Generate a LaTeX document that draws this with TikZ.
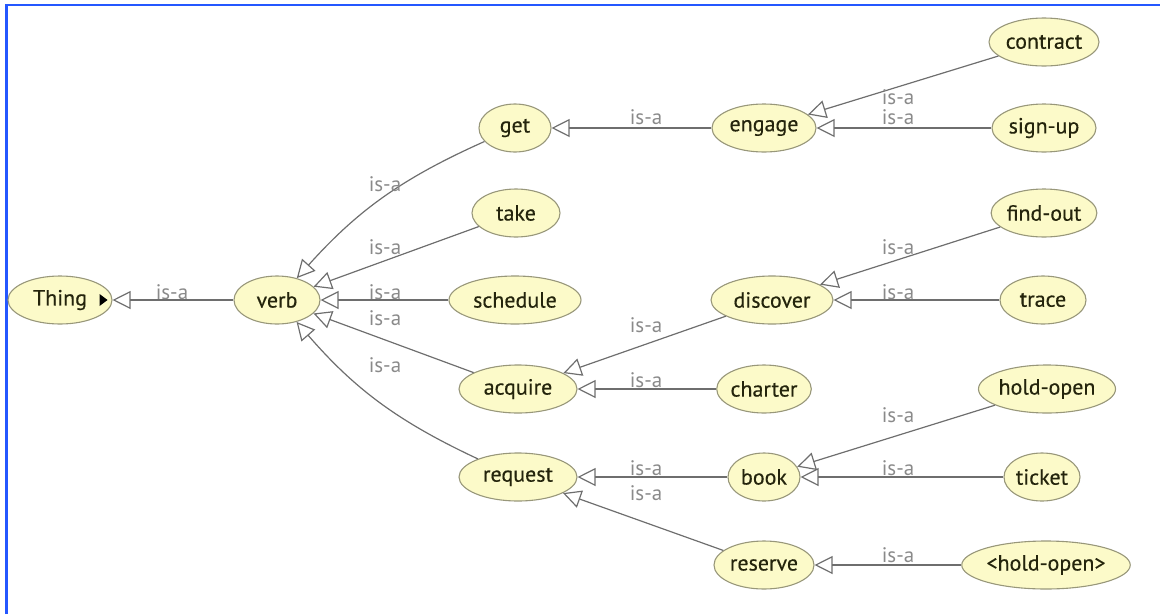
\documentclass[tikz,border=0pt]{standalone}
\usepackage{fontspec}
\setmainfont{PT Sans}
\newfontfamily\conceptfont[FakeBold=0.35]{PT Sans}
\usetikzlibrary{shapes.geometric,arrows.meta}

\definecolor{nodefill}{HTML}{FCFAC9}
\definecolor{nodeline}{HTML}{98977A}
\definecolor{nodetext}{HTML}{24240C}
\definecolor{edgegray}{HTML}{6E6E6E}
\definecolor{labelgray}{HTML}{8A8A8A}
\definecolor{frameblue}{HTML}{2457FF}

\tikzset{
  concept/.style={ellipse, draw=nodeline, fill=nodefill, line width=1.1pt,
    text=nodetext, font=\conceptfont\fontsize{22}{26}\selectfont,
    minimum height=48pt, minimum width=#1, inner sep=0pt},
  isa/.style={draw=edgegray, line width=1.2pt,
    -{Triangle[open, length=18pt, width=18pt]}},
  isalabel/.style={text=labelgray, font=\fontsize{21}{24}\selectfont, inner sep=0pt}
}

\begin{document}
\begin{tikzpicture}[x=1pt, y=-1pt]
\useasboundingbox (0,0) rectangle (1160,614);

    % frame
    \draw[frameblue, line width=2.5pt] (6.5,614) -- (6.5,5) -- (1160,5);

    % root and first level
    \node[concept=104pt] (Thing) at (60,300) {Thing};
    \fill ([xshift=-13pt,yshift=6pt]Thing.east) -- ([xshift=-13pt,yshift=-6pt]Thing.east)
        -- ([xshift=-5pt]Thing.east) -- cycle;
    \node[concept=86pt] (verb) at (277,300) {verb};

    % second level
    \node[concept=72pt]  (get)      at (515,128) {get};
    \node[concept=88pt]  (take)     at (516,213) {take};
    \node[concept=132pt] (schedule) at (515,300) {schedule};
    \node[concept=118pt] (acquire)  at (518,389) {acquire};
    \node[concept=118pt] (request)  at (518,477) {request};

    % third level
    \node[concept=104pt] (engage)   at (764,128) {engage};
    \node[concept=122pt] (discover) at (772,300) {discover};
    \node[concept=84pt]  (charter)  at (764,389) {charter};
    \node[concept=72pt]  (book)     at (764,477) {book};
    \node[concept=100pt] (reserve)  at (764,565) {reserve};

    % leaves
    \node[concept=110pt] (contract)  at (1044,42)  {contract};
    \node[concept=104pt] (signup)    at (1044,128) {sign-up};
    \node[concept=104pt] (findout)   at (1044,213) {find-out};
    \node[concept=86pt]  (trace)     at (1043,300) {trace};
    \node[concept=124pt] (holdopen)  at (1047,389) {hold-open};
    \node[concept=76pt]  (ticket)    at (1042,477) {ticket};
    \node[concept=134pt] (holdopenx) at (1046,565) {<hold-open>};

    % is-a links
    \draw[isa] (verb) -- (Thing) node[isalabel] at (172,292) {is-a};
    \draw[isa] (get) to[bend right=12] (verb) node[isalabel] at (385,184) {is-a};
    \draw[isa] (take) -- (verb) node[isalabel] at (385,247) {is-a};
    \draw[isa] (schedule) -- (verb) node[isalabel] at (385,292) {is-a};
    \draw[isa] (acquire) -- (verb) node[isalabel] at (385,318) {is-a};
    \draw[isa] (request) to[bend left=12] (verb) node[isalabel] at (385,365) {is-a};

    \draw[isa] (engage) -- (get) node[isalabel] at (646,117) {is-a};
    \draw[isa] (discover) -- (acquire) node[isalabel] at (646,325) {is-a};
    \draw[isa] (charter) -- (acquire) node[isalabel] at (646,380) {is-a};
    \draw[isa] (book) -- (request) node[isalabel] at (646,468) {is-a};
    \draw[isa] (reserve) -- (request) node[isalabel] at (646,493) {is-a};

    \draw[isa] (contract) -- (engage) node[isalabel] at (898,97) {is-a};
    \draw[isa] (signup) -- (engage) node[isalabel] at (898,117) {is-a};
    \draw[isa] (findout) -- (discover) node[isalabel] at (898,247) {is-a};
    \draw[isa] (trace) -- (discover) node[isalabel] at (898,292) {is-a};
    \draw[isa] (holdopen) -- (book) node[isalabel] at (898,415) {is-a};
    \draw[isa] (ticket) -- (book) node[isalabel] at (898,468) {is-a};
    \draw[isa] (holdopenx) -- (reserve) node[isalabel] at (898,555) {is-a};

\end{tikzpicture}
\end{document}
